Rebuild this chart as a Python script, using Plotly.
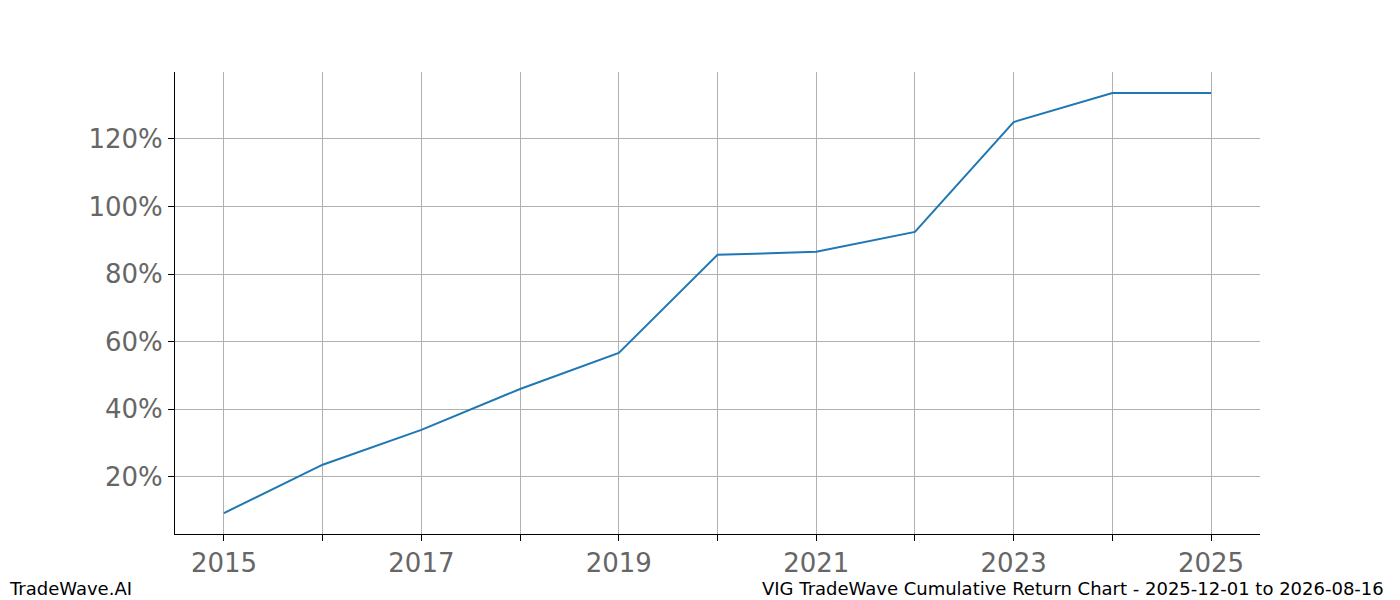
import plotly.graph_objects as go

years = [2015, 2016, 2017, 2018, 2019, 2020, 2021, 2022, 2023, 2024, 2025]
returns = [9.3, 23.6, 33.9, 46.0, 56.7, 85.7, 86.6, 92.5, 125.0, 133.6, 133.6]
tick_years = years
tick_labels = [str(y) if y % 2 == 1 else "" for y in years]
y_ticks = [20, 40, 60, 80, 100, 120]
y_labels = [f"{v}%" for v in y_ticks]

fig = go.Figure(go.Scatter(x=years, y=returns, mode="lines",
                           line=dict(color="#1f77b4", width=2)))
fig.update_layout(
    width=1400, height=600, plot_bgcolor="white", paper_bgcolor="white",
    margin=dict(l=167, r=148, t=64, b=74), showlegend=False,
    font=dict(family="DejaVu Sans"),
    xaxis=dict(range=[2014.504, 2025.496], tickvals=tick_years, ticktext=tick_labels,
               showgrid=True, gridcolor="#b0b0b0", gridwidth=1, ticks="outside",
               ticklen=6, tickcolor="black", showline=True, linecolor="black",
               tickfont=dict(size=26, color="#666666"), zeroline=False),
    yaxis=dict(range=[3.1, 139.8], tickvals=y_ticks, ticktext=y_labels,
               showgrid=True, gridcolor="#b0b0b0", gridwidth=1, ticks="outside",
               ticklen=6, tickcolor="black", showline=True, linecolor="black",
               tickfont=dict(size=26, color="#666666"), zeroline=False),
    annotations=[
        dict(text="TradeWave.AI", x=-0.155, y=-0.117, xref="paper", yref="paper",
             xanchor="left", yanchor="middle", showarrow=False, font=dict(size=18, color="black")),
        dict(text="VIG TradeWave Cumulative Return Chart - 2025-12-01 to 2026-08-16", x=1.116, y=-0.117,
             xref="paper", yref="paper", xanchor="right", yanchor="middle", showarrow=False,
             font=dict(size=18, color="black")),
    ],
)
fig.write_html("out.html")
